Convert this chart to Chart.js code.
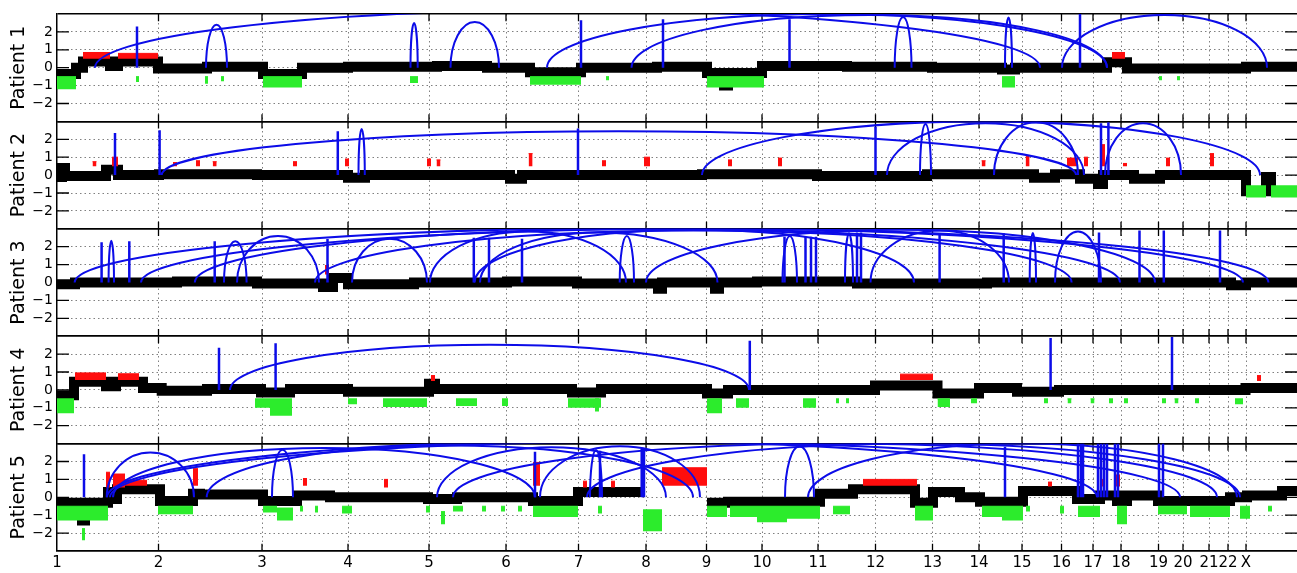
<!DOCTYPE html>
<html>
<head>
<meta charset="utf-8">
<title>Copy number and rearrangements, patients 1-5</title>
<script src="https://cdn.jsdelivr.net/npm/chart.js@4.4.0/dist/chart.umd.min.js"></script>
<style>
  html, body { margin: 0; padding: 0; background: #fff; }
  .chart-box { position: relative; width: 1297px; height: 573px; }
</style>
</head>
<body>
<div class="chart-box"><canvas id="cnv-chart"></canvas></div>
<script>
// chromosome boundaries along the concatenated genome axis
const chromNames = ["1", "2", "3", "4", "5", "6", "7", "8", "9", "10", "11", "12",
    "13", "14", "15", "16", "17", "18", "19", "20", "21", "22", "X"];
const chromStarts = [0, 101.5, 205, 291, 372, 449, 521.5, 589, 649.5, 705, 761, 818.5,
    875.5, 922, 965, 1004.5, 1036, 1064, 1101.5, 1126, 1152, 1171, 1189];
const genomeEnd = 1240;
const ratioTicks = [-2, -1, 0, 1, 2];

// segments: [start, end, log ratio]; gains / losses: [start, end, low, high]
// spikes: [position, top]; arcs: [from, to, peak]
const p1Segments = [[0, 19, -0.35], [19, 26, 0], [26, 53, 0.35], [53, 61, 0.1], [61, 101, 0.35],
    [101, 150, -0.05], [150, 206, 0.05], [206, 245, -0.35], [245, 291, 0], [291, 380, 0.05],
    [380, 430, 0.1], [430, 473, 0], [473, 524, -0.25], [524, 600, 0], [600, 650, 0.05],
    [650, 667, -0.3], [667, 671, -1.0], [671, 705, -0.3], [705, 790, 0.1], [790, 875, 0.05],
    [875, 945, 0], [945, 958, -0.1], [958, 1050, 0], [1050, 1070, 0.3], [1070, 1189, -0.05],
    [1189, 1240, 0.05]];
const p1Gains = [[26, 53, 0.5, 0.85], [61, 101, 0.5, 0.8], [1055, 1068, 0.5, 0.85]];
const p1Losses = [[0, 19, -1.2, -0.5], [79, 82, -0.8, -0.5], [148, 151, -0.9, -0.5],
    [164, 167, -0.75, -0.5], [206, 245, -1.1, -0.5], [353, 361, -0.85, -0.5],
    [473, 524, -0.95, -0.5], [549, 552, -0.7, -0.5], [650, 707, -1.1, -0.5],
    [945, 958, -1.1, -0.5], [1102, 1105, -0.7, -0.5], [1120, 1123, -0.7, -0.5]];
const p1Spikes = [[80, 2.3], [524, 2.65], [606, 2.7], [732.5, 2.7], [1023, 3.0]];
const p1Arcs = [[149, 170, 2.4], [353.5, 360.7, 2.5], [393.5, 442, 2.55], [837.7, 854.5, 2.83],
    [948, 955, 2.8], [38, 983, 3.2], [490, 1050, 3.0], [574.5, 1050, 2.95], [1005, 1210, 2.95]];

const p2Segments = [[0, 5, -0.1], [5, 8, 0.4], [8, 49, -0.05], [49, 61, 0.3], [61, 102, 0],
    [102, 200, 0.05], [200, 291, 0], [291, 308, -0.15], [308, 453, 0], [453, 465, -0.2],
    [465, 645, 0], [645, 760, 0.05], [760, 870, -0.05], [870, 977, 0.05], [977, 998, -0.15],
    [998, 1023, 0.05], [1023, 1041, -0.2], [1041, 1046, -0.5], [1046, 1077, 0],
    [1077, 1103, -0.2], [1103, 1189, 0], [1189, 1209, -0.9], [1209, 1214, -0.1], [1214, 1240, -0.9]];
const p2Gains = [[35.5, 39.5, 0.5, 0.75], [55, 61, 0.5, 1.0], [116, 120, 0.5, 0.7],
    [139, 143, 0.5, 0.8], [155.7, 159.7, 0.5, 0.75], [236, 240, 0.5, 0.75], [288, 292, 0.5, 0.9],
    [370, 374, 0.5, 0.9], [379.5, 383.5, 0.5, 0.85], [471.6, 475.6, 0.5, 1.2], [545, 549, 0.5, 0.8],
    [587, 593, 0.5, 1.0], [671, 675, 0.5, 0.85], [721, 725, 0.5, 0.95], [924.6, 928.6, 0.5, 0.8],
    [968.6, 972.6, 0.5, 1.1], [1010, 1021, 0.5, 0.95], [1027, 1031, 0.5, 1.0],
    [1044, 1048, 0.5, 1.7], [1066, 1070, 0.5, 0.65], [1109, 1113, 0.5, 0.95], [1153, 1157, 0.5, 1.2]];
const p2Losses = [[1189, 1209, -1.25, -0.6], [1214, 1240, -1.25, -0.6]];
const p2Spikes = [[58, 2.35], [102.6, 2.5], [280.8, 2.45], [521, 2.6], [818.5, 2.7],
    [1044, 2.9], [1051.4, 2.95]];
const p2Arcs = [[301.5, 307.8, 2.58], [104.7, 1019, 2.45], [645, 1203, 3.0], [863, 874, 2.85],
    [830, 1027, 2.9], [937, 1021, 2.95], [1048, 1124, 2.9]];

const p3Segments = [[0, 18, -0.1], [18, 120, 0], [120, 200, 0.05], [200, 266, -0.05],
    [266, 276, -0.25], [276, 291, 0.25], [291, 357, -0.1], [357, 450, 0], [450, 520, 0.05],
    [520, 601, -0.05], [601, 605, -0.35], [605, 658, 0], [658, 662, -0.35], [662, 700, 0],
    [700, 800, 0.05], [800, 930, -0.05], [930, 1174, 0], [1174, 1189, -0.15], [1189, 1240, 0]];
const p3Gains = [[268, 272, 0.45, 0.95]];
const p3Losses = [];
const p3Spikes = [[44.6, 2.25], [72.3, 2.3], [157.7, 2.3], [270.5, 2.43], [416.8, 2.5],
    [432, 2.5], [465, 2.45], [727.5, 2.55], [748.5, 2.55], [754, 2.55], [759, 2.55], [800, 2.8],
    [804, 2.8], [882.6, 2.7], [946.7, 2.75], [1042, 2.8], [1082.5, 2.9], [1106.8, 2.9], [1163, 2.9]];
const p3Arcs = [[51.6, 57, 2.33], [167, 189.6, 2.3], [562.7, 577, 2.6], [725.5, 740, 2.6],
    [788, 796, 2.75], [972.7, 979, 2.77], [998, 1044, 2.85], [295, 370, 2.45], [813.5, 952, 2.9],
    [417.6, 857, 2.95], [17.6, 1186, 3.05], [84, 1211.5, 3.0], [137.8, 1063, 3.0],
    [258, 1014.6, 2.9], [373, 569, 2.85], [589, 1098, 2.95], [423, 660.5, 2.8], [180, 262, 2.6]];

const p4Segments = [[0, 17, -0.3], [17, 49, 0.45], [49, 59, 0.2], [59, 86, 0.45],
    [86, 104.7, 0.1], [104.7, 150, -0.05], [150, 204, 0.05], [204, 233, -0.15], [233, 291, 0.05],
    [291, 372, -0.1], [372, 378, 0.35], [378, 515, 0.05], [515, 544, -0.15], [544, 650, 0.05],
    [650, 671, -0.2], [671, 818, 0], [818, 880.5, 0.25], [880.5, 922, -0.2], [922, 960, 0.1],
    [960, 1002, -0.1], [1002, 1188.5, 0], [1188.5, 1240, 0.1]];
const p4Gains = [[18, 49, 0.55, 0.95], [61, 82, 0.55, 0.9], [374, 378, 0.5, 0.8],
    [843, 876, 0.55, 0.88], [1200, 1204, 0.5, 0.8]];
const p4Losses = [[0, 17, -1.3, -0.5], [198, 213, -1.0, -0.5], [213, 235, -1.45, -0.5],
    [291, 300, -0.8, -0.5], [326, 370, -0.95, -0.5], [399, 420, -0.9, -0.5], [445, 451, -0.9, -0.5],
    [511, 544, -1.0, -0.5], [538, 542, -1.2, -0.5], [650, 665, -1.3, -0.5], [679, 692, -1.0, -0.5],
    [746, 759, -1.0, -0.5], [779, 782, -0.75, -0.5], [789, 792, -0.75, -0.5],
    [880.5, 893, -0.95, -0.5], [914, 920, -0.75, -0.5], [987, 991, -0.75, -0.5],
    [1010.5, 1014.5, -0.75, -0.5], [1033.5, 1037.5, -0.75, -0.5], [1052, 1056, -0.75, -0.5],
    [1067, 1071, -0.75, -0.5], [1105, 1109, -0.75, -0.5], [1117.5, 1121.5, -0.75, -0.5],
    [1138, 1142, -0.75, -0.5], [1178, 1186, -0.8, -0.5]];
const p4Spikes = [[162, 2.35], [218.6, 2.6], [692.8, 2.75], [993.6, 2.9], [1115, 2.95]];
const p4Arcs = [[173, 692, 2.52]];

const p5Segments = [[0, 25, -0.3], [25, 28, -1.3], [28, 51, -0.3], [51, 55, 0.3], [55, 60, -0.1],
    [60, 103, 0.45], [103, 136, -0.2], [136, 143, 0.2], [143, 206, 0.15], [206, 240, -0.2],
    [240, 273, 0.1], [273, 371, 0], [371, 400, -0.1], [400, 476, 0], [476, 521, -0.2],
    [521, 586, 0.3], [650, 671, -0.3], [671, 763, -0.25], [763, 796, 0.2], [796, 858, 0.45],
    [858, 876, -0.3], [876, 903, 0.3], [903, 923, 0], [923, 966, -0.25], [966, 1020, 0.35],
    [1020, 1043, -0.1], [1043, 1060, 0.1], [1060, 1070, -0.2], [1070, 1101, 0.1],
    [1101, 1173, -0.2], [1173, 1190, 0], [1190, 1225, 0.1], [1225, 1240, 0.35]];
const p5Gains = [[49, 53, 0.55, 1.4], [56, 68, 0.55, 1.3], [68, 90, 0.65, 0.95],
    [136, 141, 0.65, 1.6], [246, 250, 0.65, 1.05], [327, 331, 0.55, 1.0], [476, 483, 0.65, 1.95],
    [526, 530, 0.55, 0.9], [554, 558, 0.55, 0.9], [605, 650, 0.65, 1.65], [806, 860, 0.65, 1.0],
    [991, 995, 0.6, 0.85], [1043, 1046, 0.6, 1.0], [1058, 1063, 0.6, 1.25]];
const p5Losses = [[0, 51, -1.3, -0.5], [25, 28, -2.4, -1.75], [101, 136, -0.95, -0.5],
    [206, 220, -0.85, -0.5], [220, 236, -1.3, -0.6], [243, 246, -0.8, -0.5], [258, 261, -0.85, -0.5],
    [285, 295, -0.9, -0.5], [369, 373, -0.85, -0.5], [384, 388, -1.5, -0.8], [396, 406, -0.8, -0.5],
    [425, 429, -0.8, -0.5], [444, 448, -0.8, -0.5], [461, 465, -0.8, -0.5], [476, 521, -1.1, -0.5],
    [541, 545, -0.9, -0.5], [586, 605, -1.9, -0.7], [650, 670, -1.1, -0.5], [673, 700, -1.1, -0.5],
    [700, 730, -1.4, -0.5], [730, 763, -1.2, -0.5], [776, 793, -0.95, -0.5], [858, 876, -1.3, -0.5],
    [925, 945, -1.1, -0.5], [945, 966, -1.3, -0.5], [969, 973, -0.8, -0.5], [1003, 1007, -0.9, -0.5],
    [1021, 1043, -1.1, -0.5], [1060, 1070, -1.5, -0.5], [1101, 1130, -0.95, -0.5],
    [1133, 1173, -1.1, -0.5], [1183, 1193, -1.2, -0.5], [1211, 1215, -0.8, -0.5]];
const p5Spikes = [[27, 2.4], [478, 2.55], [543, 2.6], [584.7, 2.7], [587, 2.7], [948, 2.83],
    [1021, 3.0], [1024, 3.0], [1026, 3.0], [1041, 3.0], [1044, 3.0], [1047, 3.0], [1050, 3.0],
    [1058, 3.0], [1061, 3.0], [1102, 3.0], [1106, 3.0]];
const p5Arcs = [[49.7, 137, 2.5], [50, 1040, 3.15], [53, 1123, 3.1], [56, 478, 2.75],
    [149.7, 636, 2.9], [215, 236, 2.65], [380, 609, 2.8], [396, 1160, 3.0], [483, 643, 2.85],
    [533, 545, 2.64], [530, 1183, 3.0], [728, 757, 2.85], [751, 1180, 3.0]];

const patients = [
    { label: "Patient 1", segments: p1Segments, gains: p1Gains, losses: p1Losses, spikes: p1Spikes, arcs: p1Arcs },
    { label: "Patient 2", segments: p2Segments, gains: p2Gains, losses: p2Losses, spikes: p2Spikes, arcs: p2Arcs },
    { label: "Patient 3", segments: p3Segments, gains: p3Gains, losses: p3Losses, spikes: p3Spikes, arcs: p3Arcs },
    { label: "Patient 4", segments: p4Segments, gains: p4Gains, losses: p4Losses, spikes: p4Spikes, arcs: p4Arcs },
    { label: "Patient 5", segments: p5Segments, gains: p5Gains, losses: p5Losses, spikes: p5Spikes, arcs: p5Arcs }
];

const BLUE = "#0c0ce8";
const RED = "#ff0d0d";
const GREEN = "#2cec2c";
const FONT = "'DejaVu Sans', Verdana, sans-serif";

function blob(axis, seg, color) {
    return {
        yAxisID: axis,
        data: [{ x: seg[0], y: seg[3] }, { x: seg[1], y: seg[3] }],
        fill: { value: seg[2] },
        backgroundColor: color,
        borderColor: color,
        borderWidth: 1,
        pointRadius: 0,
        order: 1
    };
}

function buildDatasets() {
    const datasets = [];
    patients.forEach((p, i) => {
        const axis = "p" + (i + 1);

        // short rearrangements drawn as vertical blue lines
        const spikePts = [];
        p.spikes.forEach(([x, top]) => {
            spikePts.push({ x: x, y: 0 }, { x: x, y: top }, { x: x, y: null });
        });
        datasets.push({ yAxisID: axis, data: spikePts, borderColor: BLUE, borderWidth: 2.5,
            pointRadius: 0, order: 0 });

        p.gains.forEach(g => datasets.push(blob(axis, g, RED)));
        p.losses.forEach(l => datasets.push(blob(axis, l, GREEN)));

        // copy number profile as a thick stepped line
        const segPts = [];
        let prevEnd = null;
        p.segments.forEach(([s, e, v]) => {
            if (prevEnd !== null && s !== prevEnd) {
                segPts.push({ x: (prevEnd + s) / 2, y: null });
            }
            segPts.push({ x: s, y: v }, { x: e, y: v });
            prevEnd = e;
        });
        datasets.push({ yAxisID: axis, data: segPts, borderColor: "#000", borderWidth: 10,
            borderJoinStyle: "miter", borderCapStyle: "butt", pointRadius: 0, order: 2 });

        // inward tick marks on the panel frame
        const framePts = [];
        chromStarts.slice(1).forEach(x => {
            framePts.push({ x: x, y: 3 }, { x: x, y: 2.6 }, { x: x, y: null },
                { x: x, y: -3 }, { x: x, y: -2.6 }, { x: x, y: null });
        });
        ratioTicks.forEach(v => {
            framePts.push({ x: 0, y: v }, { x: 12, y: v }, { x: 12, y: null },
                { x: genomeEnd - 12, y: v }, { x: genomeEnd, y: v }, { x: genomeEnd, y: null });
        });
        datasets.push({ yAxisID: axis, data: framePts, borderColor: "#000", borderWidth: 1.3,
            pointRadius: 0, order: 3 });
    });
    return datasets;
}

function isEdge(ctx) {
    return ctx.tick && Math.abs(ctx.tick.value) === 3;
}

function panelAxis(i) {
    return {
        type: "linear",
        position: "left",
        stack: "patients",
        stackWeight: 1,
        weight: 5 - i,
        min: -3,
        max: 3,
        afterBuildTicks: axis => { axis.ticks = [-3, -2, -1, 0, 1, 2, 3].map(v => ({ value: v })); },
        afterFit: axis => { axis.width = 57; },
        ticks: {
            autoSkip: false,
            padding: 4,
            color: "#000",
            font: { family: FONT, size: 14 },
            callback: v => Math.abs(v) === 3 ? "" : (v < 0 ? "\u2212" + Math.abs(v) : String(v))
        },
        grid: {
            drawTicks: false,
            color: ctx => isEdge(ctx) ? "#000" : "#808080",
            lineWidth: ctx => isEdge(ctx) ? 1.5 : 1
        },
        border: {
            display: true,
            color: "#000",
            width: 1.5,
            dash: ctx => isEdge(ctx) ? [] : [1.5, 3]
        },
        title: {
            display: true,
            text: patients[i].label,
            color: "#000",
            font: { family: FONT, size: 19 },
            padding: { top: 8, bottom: 0 }
        }
    };
}

// long range rearrangements: half ellipses between the two breakpoints
const arcPlugin = {
    id: "rearrangementArcs",
    afterDatasetsDraw(chart) {
        const ctx = chart.ctx;
        const xScale = chart.scales.x;
        patients.forEach((p, i) => {
            const yScale = chart.scales["p" + (i + 1)];
            const base = yScale.getPixelForValue(0);
            ctx.save();
            ctx.beginPath();
            ctx.rect(xScale.left, yScale.top, xScale.right - xScale.left, yScale.bottom - yScale.top);
            ctx.clip();
            ctx.strokeStyle = BLUE;
            ctx.lineWidth = 2;
            p.arcs.forEach(([from, to, peak]) => {
                const x1 = xScale.getPixelForValue(from);
                const x2 = xScale.getPixelForValue(to);
                const rx = Math.max(Math.abs(x2 - x1) / 2, 0.5);
                const ry = base - yScale.getPixelForValue(peak);
                ctx.beginPath();
                ctx.ellipse((x1 + x2) / 2, base, rx, ry, 0, Math.PI, 2 * Math.PI);
                ctx.stroke();
            });
            ctx.restore();
        });
    }
};

const scales = {
    x: {
        type: "linear",
        position: "bottom",
        min: 0,
        max: genomeEnd,
        afterBuildTicks: axis => { axis.ticks = chromStarts.map(v => ({ value: v })); },
        afterFit: axis => { axis.height = 22; },
        ticks: {
            autoSkip: false,
            maxRotation: 0,
            padding: 3,
            color: "#000",
            font: { family: FONT, size: 15 },
            callback: (v, idx) => chromNames[idx]
        },
        grid: {
            drawTicks: false,
            color: ctx => ctx.index === 0 ? "rgba(0,0,0,0)" : "#808080",
            lineWidth: 1
        },
        border: { display: true, color: "#000", width: 1.5, dash: [1.5, 3] }
    }
};
patients.forEach((p, i) => { scales["p" + (i + 1)] = panelAxis(i); });

new Chart(document.getElementById("cnv-chart"), {
    type: "line",
    data: { datasets: buildDatasets() },
    options: {
        responsive: true,
        maintainAspectRatio: false,
        animation: false,
        events: [],
        layout: { padding: { top: 14, left: 0, right: 0, bottom: 0 } },
        elements: { line: { tension: 0 } },
        plugins: {
            legend: { display: false },
            tooltip: { enabled: false }
        },
        scales: scales
    },
    plugins: [arcPlugin]
});
</script>
</body>
</html>
